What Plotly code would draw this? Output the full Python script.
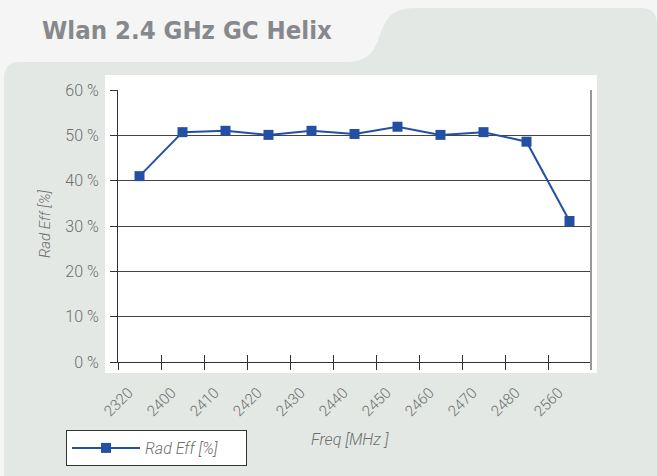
import plotly.graph_objects as go

categories = ["2320", "2400", "2410", "2420", "2430", "2440", "2450", "2460", "2470", "2480", "2560"]
rad_eff = [41.0, 50.7, 51.0, 50.1, 51.0, 50.3, 51.9, 50.1, 50.7, 48.6, 31.1]
y_ticks = [0, 10, 20, 30, 40, 50, 60]
y_tick_text = ["0 %", "10 %", "20 %", "30 %", "40 %", "50 %", "60 %"]

W, H = 657, 476
L, R, T, B = 118, 591, 90, 362


def px(x):
    return (x - L) / (R - L)


def py(y):
    return (B - y) / (B - T)


LINE_COLOR = "#2350a3"
GREY = "#6e6e6e"
FONT = "Roboto"

fig = go.Figure()
fig.add_trace(go.Scatter(
    x=categories, y=rad_eff, mode="lines+markers", name="Rad Eff [%]",
    line=dict(color=LINE_COLOR, width=2),
    marker=dict(symbol="square", size=10, color=LINE_COLOR),
))

# invisible companion traces on linear overlay axes: x2 draws the inward half of
# the crossing tick marks, x3 carries the rotated category labels
n = len(categories)
for ax in ("x2", "x3"):
    fig.add_trace(go.Scatter(x=list(range(n)), y=rad_eff, xaxis=ax, mode="lines",
                             line=dict(width=0), opacity=0, hoverinfo="skip", showlegend=False))


def P(x, y):
    return f"{px(x):.5f},{py(y):.5f}"


panel = (f"M {P(4,476)} L {P(4,78)} Q {P(4,62)} {P(20,62)} L {P(345,62)} "
         f"C {P(368,62)} {P(374,52)} {P(380,35)} C {P(387,14)} {P(395,8)} {P(418,8)} "
         f"L {P(641,8)} Q {P(657,8)} {P(657,24)} L {P(657,476)} Z")

shapes = [
    dict(type="path", path=panel, xref="paper", yref="paper",
         fillcolor="#e4e8e5", line=dict(width=0), layer="below"),
    dict(type="rect", xref="paper", yref="paper", x0=px(105), x1=px(597), y0=py(373), y1=py(75),
         fillcolor="white", line=dict(width=0), layer="below"),
    dict(type="line", xref="paper", yref="paper", x0=1, x1=1, y0=py(370), y1=1,
         line=dict(color="#9a9a9a", width=2)),
]

annotations = [
    dict(text="<b>Wlan 2.4 GHz GC Helix</b>", xref="paper", yref="paper",
         x=px(40), y=py(30), xanchor="left", yanchor="middle", showarrow=False,
         font=dict(family="DejaVu Sans Condensed, Roboto Condensed, Arial Narrow, sans-serif",
                   size=25.5, color="#87888b")),
    dict(text="Rad Eff [%]", xref="paper", yref="paper", x=px(45), y=py(224),
         xanchor="center", yanchor="middle", textangle=-90, showarrow=False,
         font=dict(family=FONT, size=15, color=GREY, style="italic", weight=300)),
    dict(text="Freq [MHz ]", xref="paper", yref="paper", x=px(350), y=py(440),
         xanchor="center", yanchor="middle", showarrow=False,
         font=dict(family=FONT, size=16, color=GREY, style="italic", weight=300)),
]

fig.update_layout(
    width=W, height=H,
    margin=dict(l=L, r=W - R, t=T, b=H - B, pad=0, autoexpand=False),
    paper_bgcolor="#f5f5f5", plot_bgcolor="white",
    shapes=shapes, annotations=annotations,
    showlegend=True,
    legend=dict(x=px(66), y=py(430), xanchor="left", yanchor="top",
                bgcolor="white", bordercolor="#333333", borderwidth=1,
                orientation="h", entrywidth=96, itemwidth=68,
                font=dict(family=FONT, size=16, color=GREY, style="italic", weight=300)),
    xaxis=dict(type="category", range=[-0.5, n - 0.5], tickson="boundaries",
               ticks="outside", ticklen=7, tickcolor="#333",
               showline=True, linecolor="#333", linewidth=1,
               showgrid=False, showticklabels=False, automargin=False),
    xaxis2=dict(overlaying="x", range=[-0.5, n - 0.5], tick0=-0.5, dtick=1,
                ticks="inside", ticklen=7, tickcolor="#333", showticklabels=False,
                showgrid=False, zeroline=False, side="bottom", automargin=False),
    xaxis3=dict(overlaying="x", range=[-0.5, n - 0.5], tickvals=list(range(n)),
                ticktext=categories, ticks="outside", ticklen=15,
                tickcolor="rgba(0,0,0,0)", showgrid=False, zeroline=False,
                side="bottom", automargin=False, tickangle=-45, ticklabelshift=-11,
                tickfont=dict(family=FONT, size=15, color=GREY, weight=300)),
    yaxis=dict(range=[0, 60], tickvals=y_ticks, ticktext=y_tick_text, ticks="outside",
               ticklen=7, tickcolor="#333", showline=True, linecolor="#333", linewidth=1,
               gridcolor="#444", gridwidth=1, zeroline=False, ticklabelstandoff=8,
               automargin=False,
               tickfont=dict(family=FONT, size=16, color=GREY, weight=300)),
)

fig.write_html("out.html", config={"displayModeBar": False},
               post_script="document.body.style.margin='0';")
